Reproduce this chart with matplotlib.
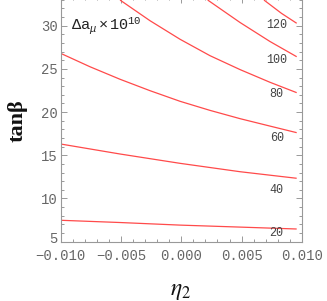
import matplotlib
matplotlib.use("Agg")
import matplotlib.pyplot as plt
from matplotlib.ticker import MultipleLocator
from matplotlib.transforms import ScaledTranslation

# contour levels (Delta a_mu x 10^10) and traced curves (eta2, tan beta)
levels = [20, 40, 60, 80, 100, 120]

eta_20 = [-0.0100, -0.00507, -0.00010, 0.00487, 0.00956]
tb_20 = [7.48, 7.22, 6.92, 6.69, 6.47]

eta_40 = [-0.0100, -0.00507, -0.00010, 0.00487, 0.00956]
tb_40 = [16.31, 15.15, 14.07, 13.10, 12.34]

eta_60 = [-0.0100, -0.00756, -0.00507, -0.00259, -0.00010, 0.00238, 0.00487, 0.00735, 0.00956]
tb_60 = [26.81, 25.25, 23.80, 22.48, 21.25, 20.20, 19.24, 18.38, 17.62]

eta_80 = [-0.00507, -0.00259, -0.00010, 0.00238, 0.00487, 0.00735, 0.00956]
tb_80 = [32.97, 30.58, 28.43, 26.53, 24.92, 23.45, 22.25]

eta_100 = [0.00219, 0.00487, 0.00735, 0.00956]
tb_100 = [32.97, 30.37, 28.17, 26.41]

eta_120 = [0.00685, 0.00830, 0.00956]
tb_120 = [32.97, 31.43, 30.28]

label_eta = 0.0079
label_tb = [6.0, 10.98, 17.0, 22.06, 26.03, 30.05]

x_ticks = [-0.010, -0.005, 0.000, 0.005, 0.010]
x_ticklabels = ["\u22120.010", "\u22120.005", "0.000", "0.005", "0.010"]
y_ticks = [5, 10, 15, 20, 25, 30]

curves = [(eta_20, tb_20), (eta_40, tb_40), (eta_60, tb_60),
          (eta_80, tb_80), (eta_100, tb_100), (eta_120, tb_120)]

plt.rcParams['mathtext.fontset'] = 'custom'
plt.rcParams['mathtext.rm'] = 'Liberation Mono'
plt.rcParams['mathtext.it'] = 'Liberation Mono:italic'

fig = plt.figure(figsize=(3.27, 3.01), dpi=100)
W, H = 327, 301
left_px, right_px, bottom_px = 60.5, 302.0, 241.7
ymin, ymax = 5.0, 33.3
ppu = 8.64
top_px = bottom_px - (ymax - ymin) * ppu
ax = fig.add_axes([left_px / W, (H - bottom_px) / H,
                   (right_px - left_px) / W, (bottom_px - top_px) / H])

red = '#ff4a4a'
for xs, ys in curves:
    ax.plot(xs, ys, color=red, lw=0.9, solid_capstyle='butt')

for lev, yy in zip(levels, label_tb):
    ax.text(label_eta, yy, str(lev), ha='center', va='center',
            fontsize=8.5, family='Liberation Mono', color='#444444')

ax.text(-0.0091, 30.0, r'$\Delta\mathrm{a}_{\mu}\times10^{10}$', ha='left', va='center',
        fontsize=11, color='#222222')

ax.set_xlim(-0.010, 0.010)
ax.set_ylim(ymin, ymax)

ax.set_xticks(x_ticks)
ax.set_xticklabels(x_ticklabels)
ax.xaxis.set_minor_locator(MultipleLocator(0.001))
ax.set_yticks(y_ticks)
ax.set_yticklabels([str(v) for v in y_ticks])
ax.yaxis.set_minor_locator(MultipleLocator(1))

frame_col = '#999999'
for s in ax.spines.values():
    s.set_color(frame_col)
    s.set_linewidth(0.8)
ax.tick_params(which='both', direction='in', top=True, right=True, color=frame_col,
               width=0.7)
ax.tick_params(which='major', length=4.5)
ax.tick_params(which='minor', length=2.3)
ax.tick_params(axis='x', which='major', pad=5, labelsize=10, labelcolor='#666666')
ax.tick_params(axis='y', which='major', pad=2, labelsize=10, labelcolor='#666666')
for lab in ax.get_xticklabels() + ax.get_yticklabels():
    lab.set_family('Liberation Mono')

# lift the lowest y tick label slightly (as in the reference)
lab5 = ax.get_yticklabels()[0]
lab5.set_transform(lab5.get_transform() + ScaledTranslation(0, 3 / 72, fig.dpi_scale_trans))

fig.text(18 / W, 1 - 121 / H, 'tan\u03b2', rotation=90, ha='center', va='center',
         fontsize=16, family='Liberation Serif', fontweight='bold', color='#111111')
fig.text(181 / W, 1 - 290 / H, r'$\eta_2$', ha='center', va='center', fontsize=17,
         math_fontfamily='stix', color='#111111')

fig.savefig('out.png', dpi=100)
